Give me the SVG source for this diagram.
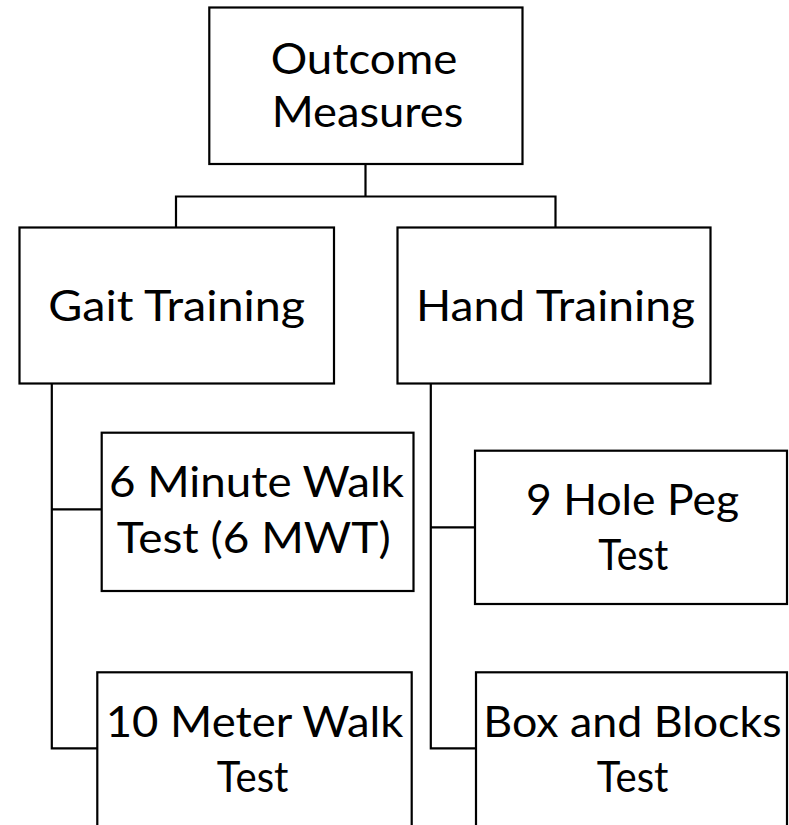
<svg xmlns="http://www.w3.org/2000/svg" width="789" height="825" viewBox="0 0 789 825">
<style>
.box{fill:#fff;stroke:#000;stroke-width:2.2}
.ln{fill:none;stroke:#000;stroke-width:2.2}
text{font-family:Lato,"Open Sans","Liberation Sans",sans-serif;font-size:42px;fill:#000}
</style>
<rect width="789" height="825" fill="#fff"/>
<g id="connectors">
<path class="ln" d="M365.5,164 V196.5 M176,227 V196.5 H555.5 V227"/>
<path class="ln" d="M51.8,383.5 V748.3 H97.5 M51.8,509.3 H101.7"/>
<path class="ln" d="M430.8,383.5 V748.3 H476 M430.8,527.3 H475"/>
</g>
<g id="outcome">
<rect class="box" x="209.3" y="7.5" width="313.2" height="156.5"/>
<text x="270.7" y="74" textLength="186.6" lengthAdjust="spacingAndGlyphs">Outcome</text>
<text x="271.7" y="127" textLength="191.7" lengthAdjust="spacingAndGlyphs">Measures</text>
</g>
<g id="gait">
<rect class="box" x="19.5" y="227.5" width="314.5" height="156"/>
<text x="48.3" y="321" textLength="256.7" lengthAdjust="spacingAndGlyphs">Gait Training</text>
</g>
<g id="hand">
<rect class="box" x="397.5" y="227.5" width="313" height="156"/>
<text x="416" y="321" textLength="279" lengthAdjust="spacingAndGlyphs">Hand Training</text>
</g>
<g id="sixmwt">
<rect class="box" x="101.7" y="432.7" width="311.8" height="158.3"/>
<text x="109" y="497" textLength="295" lengthAdjust="spacingAndGlyphs">6 Minute Walk</text>
<text x="116.7" y="553" textLength="274" lengthAdjust="spacingAndGlyphs">Test (6 MWT)</text>
</g>
<g id="ninehole">
<rect class="box" x="475" y="450.7" width="312" height="153.3"/>
<text x="526" y="515" textLength="213" lengthAdjust="spacingAndGlyphs">9 Hole Peg</text>
<text x="598.3" y="570" textLength="70" lengthAdjust="spacingAndGlyphs">Test</text>
</g>
<g id="tenmeter">
<rect class="box" x="97.3" y="672.3" width="314.4" height="170"/>
<text x="105.7" y="737" textLength="297.7" lengthAdjust="spacingAndGlyphs">10 Meter Walk</text>
<text x="216.7" y="792" textLength="71.7" lengthAdjust="spacingAndGlyphs">Test</text>
</g>
<g id="boxblocks">
<rect class="box" x="476" y="672.3" width="311" height="170"/>
<text x="483.3" y="737" textLength="298.3" lengthAdjust="spacingAndGlyphs">Box and Blocks</text>
<text x="596.7" y="792" textLength="71.7" lengthAdjust="spacingAndGlyphs">Test</text>
</g>
</svg>
